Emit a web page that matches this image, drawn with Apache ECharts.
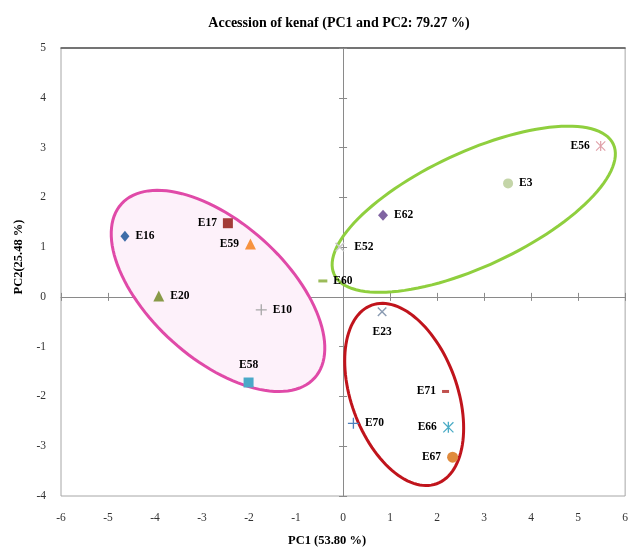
<!DOCTYPE html>
<html>
<head>
<meta charset="utf-8">
<script src="https://cdn.jsdelivr.net/npm/echarts@6/dist/echarts.min.js"></script>
<style>
  html, body { margin: 0; padding: 0; background: #fff; }
  #chart { width: 631px; height: 552px; }
</style>
</head>
<body>
<div id="chart"></div>
<script>
// accessions and their PC scores
const names = ['E16', 'E17', 'E59', 'E20', 'E10', 'E58', 'E60', 'E52', 'E62', 'E3', 'E56', 'E23', 'E71', 'E70', 'E66', 'E67'];
const pc1 = [-4.64, -2.45, -1.97, -3.92, -1.74, -2.01, -0.43, -0.07, 0.85, 3.51, 5.48, 0.83, 2.18, 0.22, 2.24, 2.33];
const pc2 = [1.22, 1.48, 1.06, 0.02, -0.26, -1.72, 0.32, 1.0, 1.64, 2.28, 3.03, -0.30, -1.90, -2.54, -2.62, -3.22];

// group ellipses: centre in PC units
const groupCx = [-2.66, 2.78, 1.30];
const groupCy = [0.12, 1.76, -1.96];

const xTicks = [-6, -5, -4, -3, -2, -1, 0, 1, 2, 3, 4, 5, 6];
const yTicks = [-4, -3, -2, -1, 0, 1, 2, 3, 4, 5];

// marker look for each accession
const PLUS = 'path://M4.4,0H5.6V10H4.4Z M0,4.4H10V5.6H0Z';
const STAR = 'path://M4.4,0H5.6V10H4.4Z M0,0.8L0.8,0L10,9.2L9.2,10Z M9.2,0L10,0.8L0.8,10L0,9.2Z';
const look = {
  E16: { symbol: 'diamond', size: [9, 11], color: '#3f6da8', pos: 'right' },
  E17: { symbol: 'rect', size: 10, color: '#a33b38', pos: 'left' },
  E59: { symbol: 'triangle', size: 11, color: '#f7923f', pos: 'left' },
  E20: { symbol: 'triangle', size: 11, color: '#889a48', pos: 'right' },
  E10: { symbol: PLUS, size: 11, color: '#a8a8a8', pos: 'right' },
  E58: { symbol: 'rect', size: 10, color: '#4aa9c8', pos: 'top' },
  E60: { symbol: 'rect', size: [9, 3], color: '#9bbb59', pos: 'right' },
  E52: { symbol: PLUS, size: 12, rotate: 45, color: '#c8c8c8', pos: 'right' },
  E62: { symbol: 'diamond', size: [10, 11], color: '#8064a2', pos: 'right' },
  E3: { symbol: 'circle', size: 10, color: '#c4d5a8', pos: 'right' },
  E56: { symbol: STAR, size: 10, color: '#e0a0a8', pos: 'left' },
  E23: { symbol: PLUS, size: 12, rotate: 45, color: '#8a9bb2', pos: 'bottom' },
  E71: { symbol: 'rect', size: [7, 3], color: '#c0504d', pos: 'left' },
  E70: { symbol: PLUS, size: 11, color: '#4f81bd', pos: 'right' },
  E66: { symbol: STAR, size: 11, color: '#4bacc6', pos: 'left' },
  E67: { symbol: 'circle', size: 11, color: '#e08a3c', pos: 'left' }
};

// ellipse outline in pixels: semi axes and rotation
const rings = [
  { a: 130, b: 68, rot: 42, stroke: '#e04aa8', fill: '#fdf1fa' },
  { a: 154, b: 57, rot: -25, stroke: '#8fcf3e', fill: 'none' },
  { a: 95, b: 53, rot: 70, stroke: '#c0141c', fill: 'none' }
];

const serif = "'Liberation Serif', 'DejaVu Serif', serif";

const chart = echarts.init(document.getElementById('chart'));

const pointSeries = names.map((n, i) => {
  const s = look[n];
  return {
    name: n,
    type: 'scatter',
    xAxisIndex: 0,
    yAxisIndex: 0,
    z: 5,
    symbol: s.symbol,
    symbolSize: s.size,
    symbolRotate: s.rotate || 0,
    itemStyle: { color: s.color, opacity: 1 },
    label: {
      show: true,
      position: s.pos,
      distance: 6,
      formatter: n,
      color: '#000',
      fontFamily: serif,
      fontWeight: 'bold',
      fontSize: 11.5
    },
    data: [[pc1[i], pc2[i]]]
  };
});

const ellipseSeries = {
  type: 'custom',
  xAxisIndex: 0,
  yAxisIndex: 0,
  z: 2,
  silent: true,
  data: groupCx.map((x, i) => [x, groupCy[i], i]),
  renderItem: function (params, api) {
    const c = api.coord([api.value(0), api.value(1)]);
    const r = rings[api.value(2)];
    const th = r.rot * Math.PI / 180;
    const pts = [];
    for (let k = 0; k < 120; k++) {
      const t = k / 120 * Math.PI * 2;
      const ex = r.a * Math.cos(t), ey = r.b * Math.sin(t);
      pts.push([c[0] + ex * Math.cos(th) - ey * Math.sin(th),
                c[1] + ex * Math.sin(th) + ey * Math.cos(th)]);
    }
    return {
      type: 'polygon',
      shape: { points: pts },
      style: { fill: r.fill, stroke: r.stroke, lineWidth: 3 }
    };
  }
};

const hidden = { show: false };
const zeroX = (inside) => ({
  type: 'value', min: -6, max: 6, interval: 1,
  axisLine: { show: !inside, onZero: true, onZeroAxisIndex: 0, lineStyle: { color: '#8a8a8a', width: 1 } },
  axisTick: { show: true, inside: inside, length: 4, lineStyle: { color: '#8a8a8a' } },
  axisLabel: hidden, splitLine: hidden
});
const zeroY = (inside) => ({
  type: 'value', min: -4, max: 5, interval: 1,
  axisLine: { show: !inside, onZero: true, onZeroAxisIndex: 0, lineStyle: { color: '#8a8a8a', width: 1 } },
  axisTick: { show: true, inside: inside, length: 4, lineStyle: { color: '#8a8a8a' } },
  axisLabel: hidden, splitLine: hidden
});

chart.setOption({
  animation: false,
  backgroundColor: '#fff',
  title: {
    text: 'Accession of kenaf (PC1 and PC2: 79.27 %)',
    left: 334,
    top: 11,
    textAlign: 'center',
    textStyle: { fontFamily: serif, fontWeight: 'bold', fontSize: 14, color: '#000' }
  },
  grid: {
    left: 61, right: 2, top: 48, bottom: 54,
    show: true, borderColor: '#a6a6a6', borderWidth: 1, backgroundColor: 'transparent'
  },
  xAxis: [
    {
      type: 'value', min: -6, max: 6, interval: 1, position: 'bottom',
      name: 'PC1 (53.80 %)', nameLocation: 'middle', nameGap: 38,
      nameTextStyle: { fontFamily: serif, fontWeight: 'bold', fontSize: 12.5, color: '#000', padding: [0, 32, 0, 0] },
      axisLine: { show: false, onZero: false }, axisTick: hidden, splitLine: hidden,
      axisLabel: { margin: 16, fontFamily: serif, fontSize: 11.5, color: '#333',
        formatter: v => xTicks.includes(v) ? String(v) : '' }
    },
    zeroX(false),
    zeroX(true),
    {
      type: 'value', min: -6, max: 6, position: 'top',
      axisLine: { show: true, onZero: false, lineStyle: { color: '#555', width: 1.5 } },
      axisTick: hidden, axisLabel: hidden, splitLine: hidden
    }
  ],
  yAxis: [
    {
      type: 'value', min: -4, max: 5, interval: 1, position: 'left',
      name: 'PC2(25.48 %)', nameLocation: 'middle', nameGap: 32,
      nameTextStyle: { fontFamily: serif, fontWeight: 'bold', fontSize: 12.5, color: '#000', padding: [0, 0, 0, 30] },
      axisLine: { show: false, onZero: false }, axisTick: hidden, splitLine: hidden,
      axisLabel: { margin: 15, fontFamily: serif, fontSize: 11.5, color: '#333',
        formatter: v => yTicks.includes(v) ? String(v) : '' }
    },
    zeroY(false),
    zeroY(true)
  ],
  series: [ellipseSeries].concat(pointSeries)
});
</script>
</body>
</html>
